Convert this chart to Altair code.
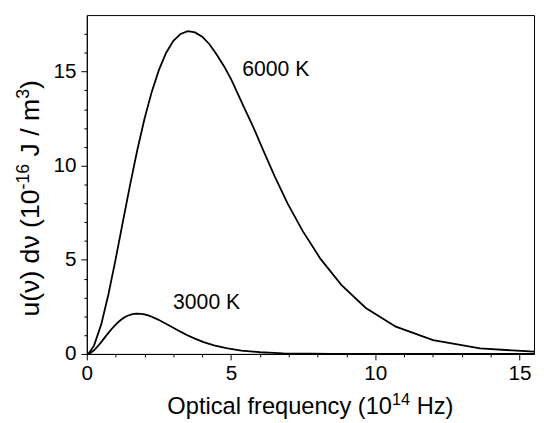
import altair as alt
import pandas as pd

# ---- data ----
freq_6000 = [0.05, 0.25, 0.5, 0.75, 1.0, 1.25, 1.5, 1.75, 2.0, 2.25, 2.5, 2.75, 3.0, 3.25, 3.5,
             3.75, 4.0, 4.25, 4.5, 4.75, 5.0, 5.45, 5.77, 6.12, 6.52, 6.97, 7.49, 8.1, 8.82,
             9.67, 10.71, 12.0, 13.63, 15.5]
u_6000 = [0.0, 0.44, 1.57, 3.17, 5.04, 7.02, 8.98, 10.83, 12.49, 13.92, 15.09, 16.0, 16.63, 17.0, 17.15,
          17.08, 16.85, 16.45, 15.9, 15.3, 14.6, 13.1, 12.05, 10.8, 9.4, 7.96, 6.51, 5.05, 3.67,
          2.44, 1.45, 0.73, 0.29, 0.12]

freq_3000 = [0.05, 0.125, 0.25, 0.375, 0.5, 0.625, 0.75, 0.875, 1.0, 1.125, 1.25, 1.375, 1.5, 1.625,
             1.75, 1.875, 2.0, 2.125, 2.25, 2.375, 2.5, 2.725, 2.885, 3.06, 3.26, 3.485, 3.745,
             4.05, 4.41, 4.835, 5.355, 6.0, 6.815, 7.75, 8.5, 10.0, 15.5]
u_3000 = [0.0, 0.055, 0.196, 0.396, 0.63, 0.88, 1.12, 1.35, 1.56, 1.74, 1.89, 2.0, 2.08, 2.125,
          2.145, 2.13, 2.1, 2.045, 1.975, 1.89, 1.8, 1.615, 1.485, 1.335, 1.17, 0.995, 0.815,
          0.63, 0.46, 0.305, 0.18, 0.09, 0.036, 0.012, 0.004, 0.0005, 0.0]

curve_labels = ["6000 K", "3000 K"]
curve_label_x = [5.39, 2.99]
curve_label_y = [14.79, 2.39]

x_ticks = list(range(0, 16))
y_ticks = list(range(0, 18))

# title pieces: (text, is_superscript, leading_space)
x_title_parts = [("Optical frequency (10", False, False), ("14", True, False), ("Hz)", False, True)]
y_title_parts = [("u(\u03bd) d\u03bd (10", False, False), ("-16", True, False),
                 ("J / m", False, True), ("3", True, False), (")", False, False)]

# ---- layout ----
FONT = "Liberation Sans"
W, H = 454, 344
PAD = {"left": 80, "top": 4, "right": 2, "bottom": 72}
TICK_FS = 21
ANN_FS = 21.5
XT_FS, XS_FS = 24, 16.5
YT_FS, YS_FS = 27, 18

AW = {" ": 278, "(": 333, ")": 333, "-": 333, "/": 278, "H": 722, "J": 500, "K": 667,
      "O": 778, "a": 556, "c": 500, "d": 556, "e": 556, "f": 278, "i": 222, "l": 222, "m": 833,
      "n": 556, "p": 556, "q": 556, "r": 333, "t": 278, "u": 556, "y": 500, "z": 500, "\u03bd": 500}


def tw(s, fs):
    return sum(AW.get(ch, 556) for ch in s) * fs / 1000.0


def piece(text, x, y, fs, angle=0):
    return alt.Chart(pd.DataFrame({"t": [text]})).mark_text(
        align="left", baseline="alphabetic", fontSize=fs, font=FONT, color="black", angle=angle
    ).encode(text="t:N", x=alt.value(x), y=alt.value(y))


def title_layout(parts, fs_main, fs_sup):
    out = []
    pos = 0.0
    for text, sup, lead in parts:
        fs = fs_sup if sup else fs_main
        if lead:
            pos += tw(" ", fs)
        out.append((text, pos, fs, sup))
        pos += tw(text, fs)
    return out, pos


df = pd.concat([
    pd.DataFrame({"freq": freq_6000, "u": u_6000, "T": "6000 K"}),
    pd.DataFrame({"freq": freq_3000, "u": u_3000, "T": "3000 K"}),
])

x_scale = alt.Scale(domain=[0, 15.5], nice=False, zero=False)
y_scale = alt.Scale(domain=[0, 18], nice=False)

tick_size = {"condition": {"test": "datum.value % 5 === 0", "value": 6}, "value": 3}
lab_expr = "datum.value % 5 === 0 ? datum.label : ''"

x_axis = alt.Axis(values=x_ticks, title=None, labelExpr=lab_expr, tickSize=tick_size,
                  labelFlush=False, labelOverlap=False, labelPadding=3)
y_axis = alt.Axis(values=y_ticks, title=None, labelExpr=lab_expr, tickSize=tick_size,
                  labelFlush=False, labelOverlap=False, labelPadding=5)

lines = alt.Chart(df).mark_line(color="black", strokeWidth=1.8, clip=True).encode(
    x=alt.X("freq:Q", scale=x_scale, axis=x_axis),
    y=alt.Y("u:Q", scale=y_scale, axis=y_axis),
    detail="T:N",
)

ann = alt.Chart(pd.DataFrame({"lab": curve_labels, "x": curve_label_x, "y": curve_label_y})).mark_text(
    align="left", baseline="alphabetic", fontSize=ANN_FS, font=FONT, color="black"
).encode(
    x=alt.X("x:Q", scale=x_scale, axis=x_axis),
    y=alt.Y("y:Q", scale=y_scale, axis=y_axis),
    text="lab:N",
)

layers = [lines, ann]

# x title (with superscript)
items, total = title_layout(x_title_parts, XT_FS, XS_FS)
xs = W / 2 - total / 2
xb = H + 61
for text, pos, fs, sup in items:
    layers.append(piece(text, xs + pos, xb - (9 if sup else 0), fs))

# y title (rotated, with superscripts)
items, total = title_layout(y_title_parts, YT_FS, YS_FS)
ystart = 186 + total / 2
ybase = -49
for text, pos, fs, sup in items:
    layers.append(piece(text, ybase - (10 if sup else 0), ystart - pos, fs, angle=270))

chart = alt.layer(*layers).properties(
    width=W, height=H, autosize=alt.AutoSizeParams(type="none"), padding=PAD
).configure_view(
    stroke="black", strokeWidth=1
).configure_axis(
    grid=False, domainColor="black", domainWidth=1, tickColor="black", tickWidth=1,
    labelFont=FONT, labelFontSize=TICK_FS, labelColor="black", labelOverlap=False
)

chart.save("out.html", embed_options={"renderer": "svg", "actions": False})
